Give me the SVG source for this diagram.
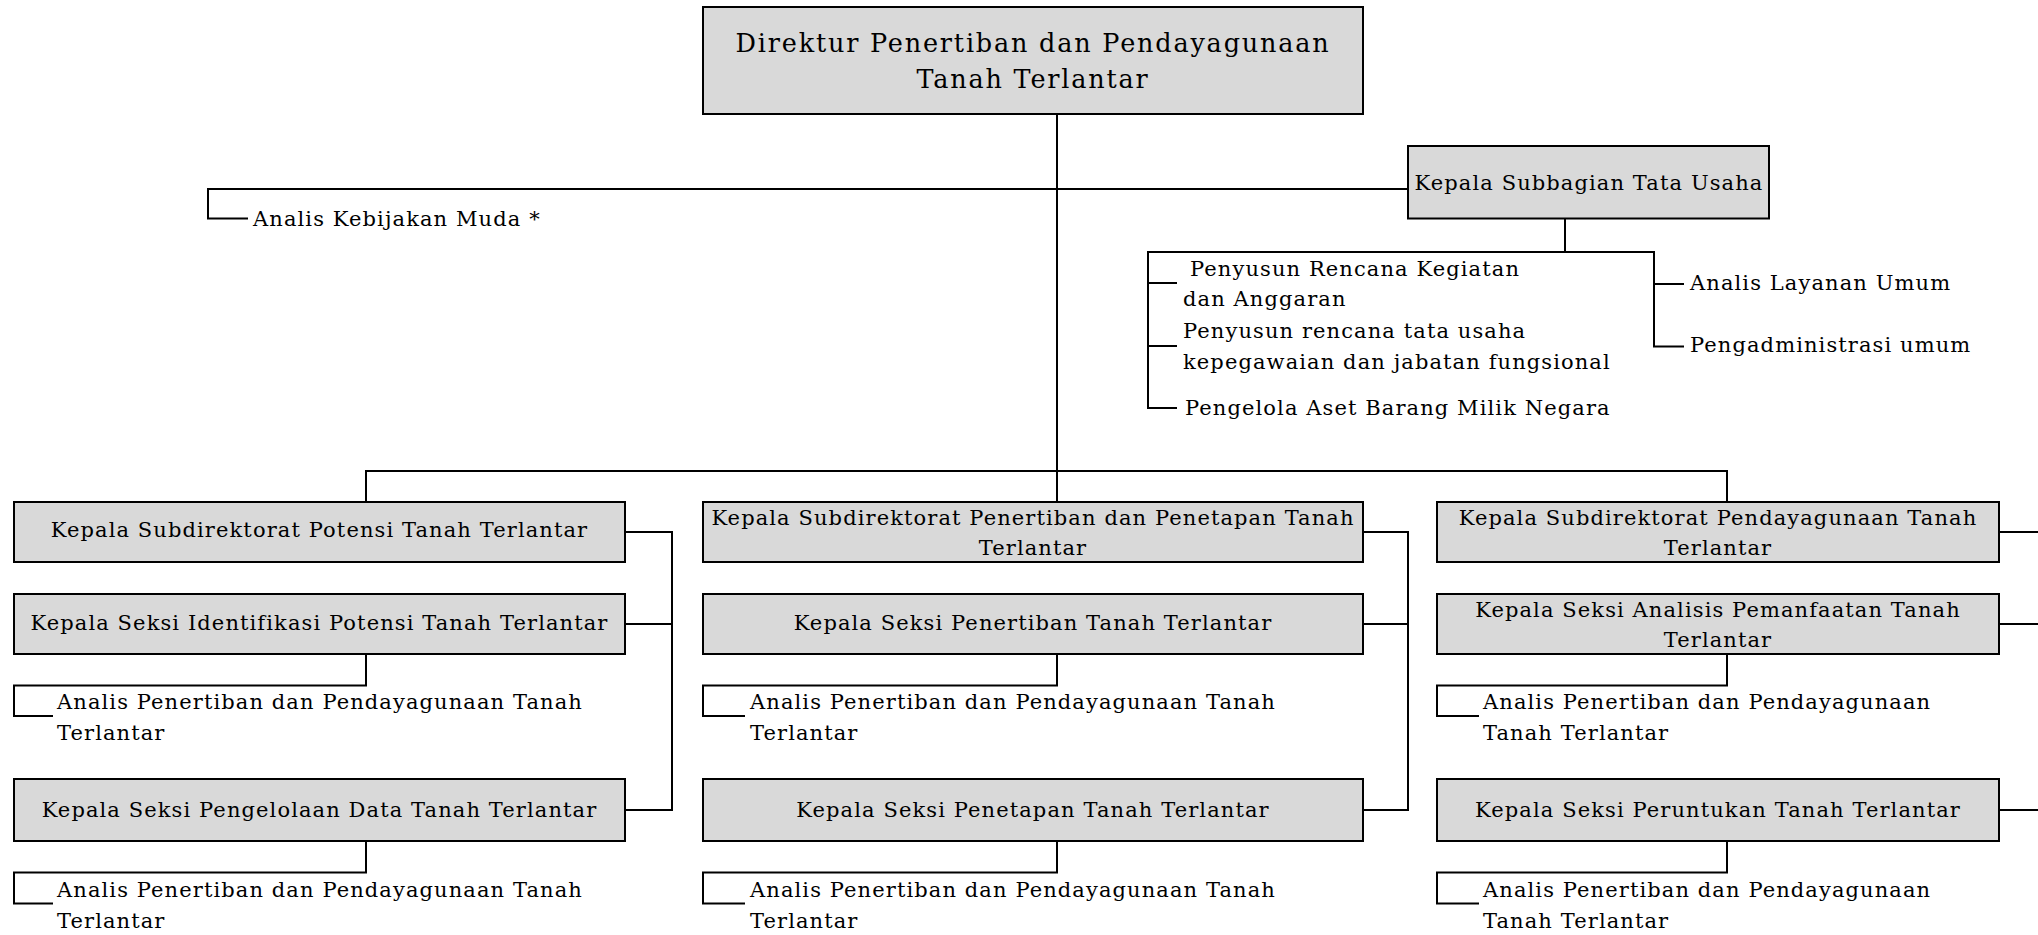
<svg xmlns="http://www.w3.org/2000/svg" width="2038" height="935" viewBox="0 0 2038 935">
<style>
.box{fill:#d9d9d9;stroke:#000;stroke-width:2}
.t{font-family:"DejaVu Serif",serif;font-size:21px;letter-spacing:1.1px;fill:#000}
.c{text-anchor:middle}
.title{font-size:25.5px;letter-spacing:1.8px}
.ln{fill:none;stroke:#000;stroke-width:2}
</style>
<rect width="2038" height="935" fill="#fff"/>
<g id="connectors">
<path class="ln" d="M1057,114 V502"/>
<path class="ln" d="M366,502 V471 H1727 V502"/>
<path class="ln" d="M248,218.5 H208 V189 H1408"/>
<path class="ln" d="M1565,218.5 V252"/>
<path class="ln" d="M1177,408 H1148 V252 H1654 V346.5 H1684"/>
<path class="ln" d="M1148,283 H1177 M1148,346 H1177 M1654,284 H1684"/>
<path class="ln" d="M625,532 H672 V810 H625 M625,624 H672"/>
<path class="ln" d="M1363,532 H1408 V810 H1363 M1363,624 H1408"/>
<path class="ln" d="M1999,532 H2038 M1999,624 H2038 M1999,810 H2038"/>
<path class="ln" d="M366,654 V685.5 H14 V716 H53 M366,841 V872.5 H14 V903.5 H53"/>
<path class="ln" d="M1057,654 V685.5 H703 V716 H745 M1057,841 V872.5 H703 V903.5 H745"/>
<path class="ln" d="M1727,654 V685.5 H1437 V716 H1479 M1727,841 V872.5 H1437 V903.5 H1479"/>
</g>
<g id="direktur">
<rect class="box" x="703" y="7" width="660" height="107"/>
<text class="t c title" x="1033" y="52">Direktur Penertiban dan Pendayagunaan</text>
<text class="t c title" x="1033" y="88">Tanah Terlantar</text>
</g>
<g id="analis-kebijakan">
<text class="t" x="253" y="226">Analis Kebijakan Muda *</text>
</g>
<g id="kasubbag-tu">
<rect class="box" x="1408" y="146" width="361" height="72.5"/>
<text class="t c" x="1589" y="190">Kepala Subbagian Tata Usaha</text>
</g>
<g id="penyusun-rka">
<text class="t" x="1190" y="276">Penyusun Rencana Kegiatan</text>
<text class="t" x="1183" y="305.5">dan Anggaran</text>
</g>
<g id="penyusun-rtu">
<text class="t" x="1183" y="338">Penyusun rencana tata usaha</text>
<text class="t" x="1183" y="368.5">kepegawaian dan jabatan fungsional</text>
</g>
<g id="pengelola-aset">
<text class="t" x="1185" y="414.5">Pengelola Aset Barang Milik Negara</text>
</g>
<g id="analis-layanan">
<text class="t" x="1690" y="290">Analis Layanan Umum</text>
</g>
<g id="pengadministrasi">
<text class="t" x="1690" y="352">Pengadministrasi umum</text>
</g>
<g id="subdit-potensi">
<rect class="box" x="14" y="502" width="611" height="60"/>
<text class="t c" x="319.5" y="537">Kepala Subdirektorat Potensi Tanah Terlantar</text>
</g>
<g id="seksi-identifikasi">
<rect class="box" x="14" y="594" width="611" height="60"/>
<text class="t c" x="319.5" y="630">Kepala Seksi Identifikasi Potensi Tanah Terlantar</text>
</g>
<g id="analis-identifikasi">
<text class="t" x="57" y="709">Analis Penertiban dan Pendayagunaan Tanah</text>
<text class="t" x="57" y="739.5">Terlantar</text>
</g>
<g id="seksi-pengelolaan">
<rect class="box" x="14" y="779" width="611" height="62"/>
<text class="t c" x="319.5" y="817">Kepala Seksi Pengelolaan Data Tanah Terlantar</text>
</g>
<g id="analis-pengelolaan">
<text class="t" x="57" y="897">Analis Penertiban dan Pendayagunaan Tanah</text>
<text class="t" x="57" y="927.5">Terlantar</text>
</g>
<g id="subdit-penertiban">
<rect class="box" x="703" y="502" width="660" height="60"/>
<text class="t c" x="1033" y="524.5">Kepala Subdirektorat Penertiban dan Penetapan Tanah</text>
<text class="t c" x="1033" y="555">Terlantar</text>
</g>
<g id="seksi-penertiban">
<rect class="box" x="703" y="594" width="660" height="60"/>
<text class="t c" x="1033" y="630">Kepala Seksi Penertiban Tanah Terlantar</text>
</g>
<g id="analis-penertiban">
<text class="t" x="750" y="709">Analis Penertiban dan Pendayagunaan Tanah</text>
<text class="t" x="750" y="739.5">Terlantar</text>
</g>
<g id="seksi-penetapan">
<rect class="box" x="703" y="779" width="660" height="62"/>
<text class="t c" x="1033" y="817">Kepala Seksi Penetapan Tanah Terlantar</text>
</g>
<g id="analis-penetapan">
<text class="t" x="750" y="897">Analis Penertiban dan Pendayagunaan Tanah</text>
<text class="t" x="750" y="927.5">Terlantar</text>
</g>
<g id="subdit-pendayagunaan">
<rect class="box" x="1437" y="502" width="562" height="60"/>
<text class="t c" x="1718" y="524.5">Kepala Subdirektorat Pendayagunaan Tanah</text>
<text class="t c" x="1718" y="555">Terlantar</text>
</g>
<g id="seksi-analisis">
<rect class="box" x="1437" y="594" width="562" height="60"/>
<text class="t c" x="1718" y="616.5">Kepala Seksi Analisis Pemanfaatan Tanah</text>
<text class="t c" x="1718" y="647">Terlantar</text>
</g>
<g id="analis-analisis">
<text class="t" x="1483" y="709">Analis Penertiban dan Pendayagunaan</text>
<text class="t" x="1483" y="739.5">Tanah Terlantar</text>
</g>
<g id="seksi-peruntukan">
<rect class="box" x="1437" y="779" width="562" height="62"/>
<text class="t c" x="1718" y="817">Kepala Seksi Peruntukan Tanah Terlantar</text>
</g>
<g id="analis-peruntukan">
<text class="t" x="1483" y="897">Analis Penertiban dan Pendayagunaan</text>
<text class="t" x="1483" y="927.5">Tanah Terlantar</text>
</g>
</svg>
